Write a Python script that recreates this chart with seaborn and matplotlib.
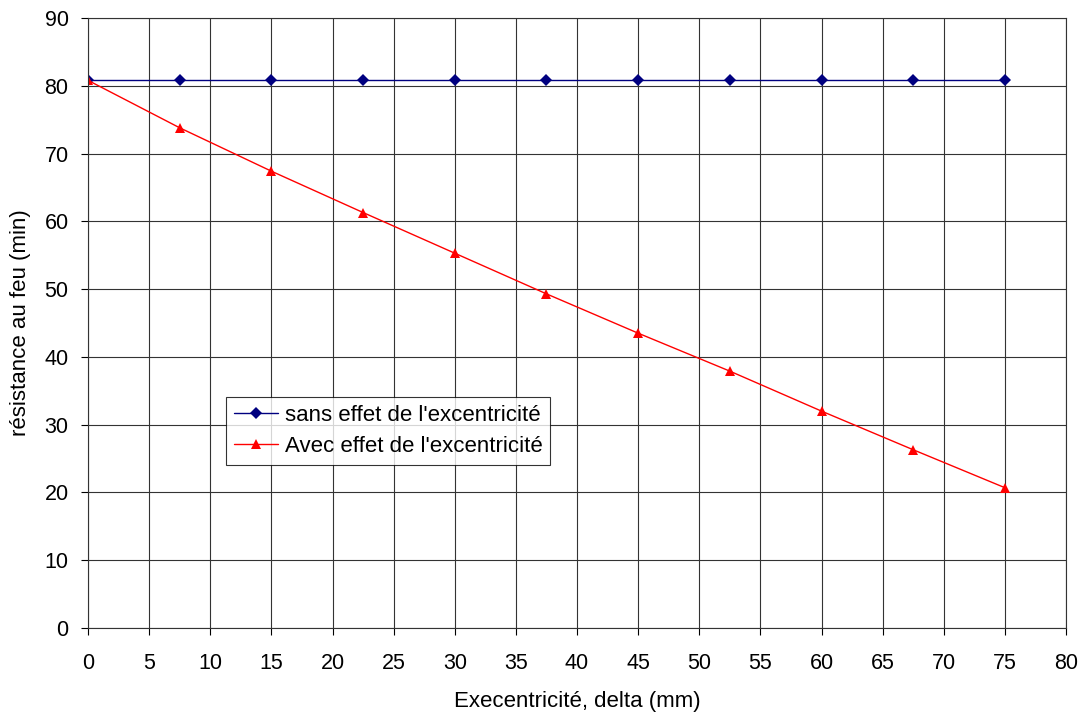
import pandas as pd
import numpy as np
import seaborn as sns
import matplotlib.pyplot as plt

# values
delta_mm = [0, 7.5, 15, 22.5, 30, 37.5, 45, 52.5, 60, 67.5, 75]
sans_effet = [80.8, 80.8, 80.8, 80.8, 80.8, 80.8, 80.8, 80.8, 80.8, 80.8, 80.8]
avec_effet = [80.8, 73.8, 67.4, 61.3, 55.3, 49.3, 43.5, 37.9, 32.0, 26.3, 20.7]

label_sans = "sans effet de l'excentricité"
label_avec = "Avec effet de l'excentricité"

df = pd.DataFrame({
    'delta': delta_mm * 2,
    'resistance': sans_effet + avec_effet,
    'serie': [label_sans] * len(delta_mm) + [label_avec] * len(delta_mm),
})

sns.set_style("white")
plt.rcParams['font.family'] = ['Liberation Sans', 'DejaVu Sans']
plt.rcParams['text.color'] = 'black'
plt.rcParams['axes.labelcolor'] = 'black'
plt.rcParams['xtick.color'] = 'black'
plt.rcParams['ytick.color'] = 'black'

fig = plt.figure(figsize=(10.85, 7.21), dpi=100)
ax = fig.add_axes([88 / 1085, 1 - 628 / 721, (1066 - 88) / 1085, (628 - 18) / 721])

sns.lineplot(
    data=df,
    x='delta',
    y='resistance',
    hue='serie',
    style='serie',
    palette={label_sans: 'navy', label_avec: 'red'},
    markers={label_sans: 'D', label_avec: '^'},
    dashes=False,
    markersize=6.5,
    markeredgewidth=0,
    linewidth=1,
    ax=ax,
)

ax.set_xlim(0, 80)
ax.set_ylim(0, 90)
ax.set_xticks(np.arange(0, 81, 5))
ax.set_yticks(np.arange(0, 91, 10))
ax.grid(True, color='#333333', linewidth=0.8)
ax.tick_params(axis='both', labelsize=15.5, length=5, direction='out', color='black',
               bottom=True, left=True)
ax.tick_params(axis='x', pad=13)
ax.tick_params(axis='y', pad=9)
for side in ['left', 'bottom', 'top', 'right']:
    ax.spines[side].set_color('#333333')
    ax.spines[side].set_linewidth(0.8)

ax.set_xlabel('Execentricité, delta (mm)', fontsize=16, labelpad=12)
ax.set_ylabel('résistance au feu (min)', fontsize=16, labelpad=10)

leg = ax.legend(
    loc='upper left',
    bbox_to_anchor=((226 - 88) / (1066 - 88), (628 - 397) / (628 - 18)),
    fontsize=16,
    frameon=True,
    fancybox=False,
    edgecolor='black',
    borderpad=0.35,
    borderaxespad=0,
    handlelength=2.0,
    handletextpad=0.3,
    labelspacing=0.45,
)
leg.get_frame().set_linewidth(0.8)

plt.savefig('out.png', dpi=100)
